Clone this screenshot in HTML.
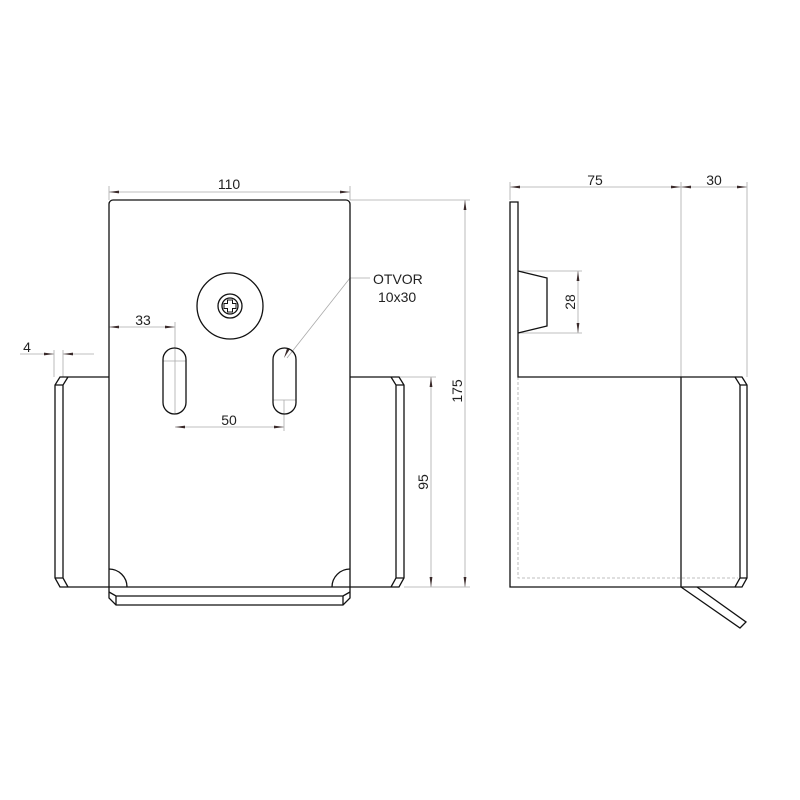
<!DOCTYPE html>
<html><head><meta charset="utf-8"><style>body{margin:0;background:#fff}svg{display:block}text{font-family:"Liberation Sans",sans-serif;font-size:14px;fill:#222}</style></head><body>
<svg width="800" height="800" viewBox="0 0 800 800">
<defs><marker id="a" viewBox="0 0 10 4" refX="10" refY="2" markerWidth="10" markerHeight="4" markerUnits="userSpaceOnUse" orient="auto-start-reverse"><path d="M0,0.6L10,2L0,3.4z" fill="#3a2a2a"/></marker></defs>
<g fill="none" stroke="#aaa" stroke-width="0.8">
<line x1="109" y1="192" x2="350" y2="192" marker-start="url(#a)" marker-end="url(#a)"/>
<line x1="109" y1="186" x2="109" y2="200"/><line x1="350" y1="186" x2="350" y2="200"/>
<line x1="350" y1="200" x2="470" y2="200"/>
<line x1="465" y1="200" x2="465" y2="587" marker-start="url(#a)" marker-end="url(#a)"/>
<line x1="404" y1="587" x2="470" y2="587"/><line x1="396" y1="377" x2="436" y2="377"/>
<line x1="431" y1="377" x2="431" y2="587" marker-start="url(#a)" marker-end="url(#a)"/>
<line x1="109" y1="327" x2="175" y2="327" marker-start="url(#a)" marker-end="url(#a)"/>
<line x1="175" y1="322" x2="175" y2="414"/>
<line x1="175" y1="427" x2="284" y2="427" marker-start="url(#a)" marker-end="url(#a)"/>
<line x1="284" y1="400" x2="284" y2="431"/><line x1="273" y1="400" x2="296" y2="400"/><line x1="163" y1="361" x2="186" y2="361"/>
<line x1="20" y1="354" x2="54" y2="354" marker-end="url(#a)"/><line x1="94" y1="354" x2="63" y2="354" marker-end="url(#a)"/>
<line x1="54" y1="350" x2="54" y2="377"/><line x1="63" y1="350" x2="63" y2="377"/>
<polyline points="287,358 350,278 370,278"/>
<line x1="510" y1="187" x2="681" y2="187" marker-start="url(#a)" marker-end="url(#a)"/>
<line x1="681" y1="187" x2="747" y2="187" marker-start="url(#a)" marker-end="url(#a)"/>
<line x1="510" y1="182" x2="510" y2="200"/>
<line x1="681" y1="182" x2="681" y2="587"/><line x1="747" y1="182" x2="747" y2="377"/>
<line x1="518" y1="271" x2="582" y2="271"/><line x1="518" y1="333" x2="582" y2="333"/>
<line x1="578" y1="271" x2="578" y2="333" marker-start="url(#a)" marker-end="url(#a)"/>
<polyline points="518,377 518,578 738,578" stroke-dasharray="3,2"/>
</g>
<path d="M284,358l6,-9l-3,-0.5z" fill="#3a2a2a"/>
<g fill="none" stroke="#111" stroke-width="1.3">
<path d="M109,587V204a4,4 0 0 1 4,-4H346a4,4 0 0 1 4,4V587"/>
<path d="M109,587H350V598L343,605H116L109,598Z"/><path d="M109,592L116,596H343L350,592M116,596V605M343,596V605"/>
<path d="M109,377H60L55,385V578L60,587H109M68,377L63,385V578L68,587M55,385H63M55,578H63"/>
<path d="M350,377H399L404,385V578L399,587H350M391,377L396,385V578L391,587M396,385H404M396,578H404"/>
<path d="M109,569a18,18 0 0 1 18,18M350,569a18,18 0 0 0 -18,18"/>
<circle cx="230" cy="306" r="33"/><circle cx="230" cy="306" r="12"/><circle cx="230" cy="306" r="8"/>
<path d="M227.5,300h5v3.5h3.5v5h-3.5v3.5h-5v-3.5h-3.5v-5h3.5z" stroke-width="1"/>
<rect x="163" y="348" width="23" height="66" rx="11.5"/><rect x="273" y="348" width="23" height="66" rx="11.5"/>
<path d="M510,202H518V377H735L740,385V578L735,587H510Z"/>
<path d="M735,377H742L747,385V578L742,587H735M740,385H747M740,578H747M681,377V587"/>
<path d="M518,271L547,278V326L518,333"/>
<path d="M681,587L740,628L746,622L697,587"/>
</g>
<text x="229" y="189" text-anchor="middle">110</text>
<text x="143" y="325" text-anchor="middle">33</text>
<text x="229" y="425" text-anchor="middle">50</text>
<text x="27" y="352" text-anchor="middle">4</text>
<text x="373" y="284">OTVOR</text><text x="378" y="302">10x30</text>
<text transform="translate(462,391) rotate(-90)" text-anchor="middle">175</text>
<text transform="translate(428,482) rotate(-90)" text-anchor="middle">95</text>
<text transform="translate(575,302) rotate(-90)" text-anchor="middle">28</text>
<text x="595" y="185" text-anchor="middle">75</text>
<text x="714" y="185" text-anchor="middle">30</text>
</svg></body></html>
